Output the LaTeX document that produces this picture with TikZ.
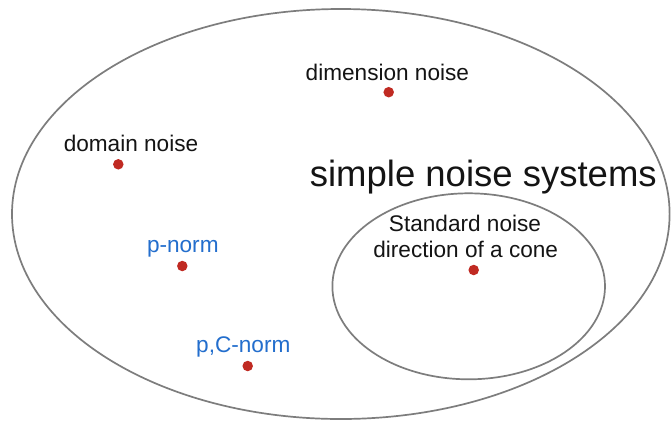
\documentclass[tikz,border=0pt]{standalone}
\usepackage{fontspec}
\setmainfont{Liberation Sans}
\definecolor{ringgray}{RGB}{125,125,125}
\definecolor{dotred}{RGB}{192,42,34}
\definecolor{normblue}{RGB}{35,110,205}
\definecolor{txtblack}{RGB}{20,20,20}
\begin{document}
\begin{tikzpicture}[x=1pt,y=-1pt,
  ring/.style={draw=ringgray,line width=1.7pt},
  dot/.style={circle,fill=dotred,inner sep=0pt,minimum size=10.5pt},
  lbl/.style={anchor=base,inner sep=0pt,text=txtblack,font=\fontsize{22.6}{27.4}\selectfont},
  bluelbl/.style={lbl,text=normblue},
  bigtitle/.style={anchor=base,inner sep=0pt,text=txtblack,font=\fontsize{36.5}{40}\selectfont}]
\useasboundingbox (0,0) rectangle (671,421);
\fill[white] (0,0) rectangle (671,421);
% ellipses
\draw[ring] (340.8,214) ellipse [x radius=328.8pt, y radius=205pt];
\draw[ring] (468.7,286.3) ellipse [x radius=136.3pt, y radius=93pt];
% dots
\node[dot] (ddim) at (388.7,92.2) {};
\node[dot] (ddom) at (118.3,164.3) {};
\node[dot] (dpn) at (182.3,266) {};
\node[dot] (dpc) at (247.7,366) {};
\node[dot] (dcone) at (473.7,270) {};
% labels
\node[lbl] (tdim) at (387.4,80.7) {dimension noise};
\node[lbl] (tdom) at (131,151.7) {domain noise};
\node[bigtitle] (tsys) at (483.3,186.7) {simple noise systems};
\node[lbl] (tstd) at (465,231.7) {Standard noise};
\node[lbl] (tcone) at (465.7,257.7) {direction of a cone};
\node[bluelbl] (tpn) at (182.8,252.3) {p-norm};
\node[bluelbl] (tpc) at (243.3,352.3) {p,C-norm};
\end{tikzpicture}
\end{document}
